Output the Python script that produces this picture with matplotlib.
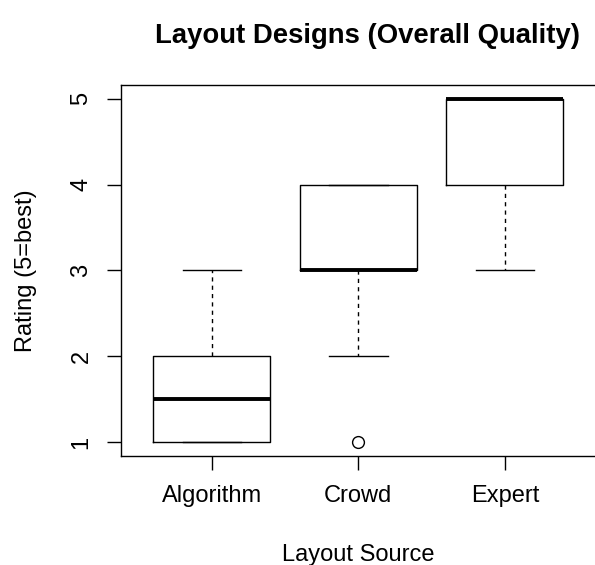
import matplotlib
matplotlib.use("Agg")
import matplotlib.pyplot as plt

categories = ["Algorithm", "Crowd", "Expert"]
q1 = [1, 3, 4]
med = [1.5, 3, 5]
q3 = [2, 4, 5]
whislo = [1, 2, 3]
whishi = [3, 4, 5]
fliers = [[], [1], []]
yticks = [1, 2, 3, 4, 5]

plt.rcParams['font.family'] = ['Liberation Sans', 'DejaVu Sans']

W, H = 595, 565
fig = plt.figure(figsize=(W / 100, H / 100), dpi=100)
left, bottom_px, top_px = 121, 455.7, 85
width_px = 3.24 * 146.5
ax = fig.add_axes([left / W, 1 - bottom_px / H, width_px / W, (bottom_px - top_px) / H])

stats = []
for i, c in enumerate(categories):
    stats.append(dict(label=c, q1=q1[i], med=med[i], q3=q3[i],
                      whislo=whislo[i], whishi=whishi[i], fliers=fliers[i]))

pos = list(range(1, len(categories) + 1))
ax.bxp(stats, positions=pos, widths=0.8, showfliers=True,
       boxprops=dict(color='black', linewidth=1.0),
       medianprops=dict(color='black', linewidth=2.8, solid_capstyle='butt'),
       whiskerprops=dict(color='black', linewidth=1.0, linestyle=(0, (3, 3))),
       capprops=dict(color='black', linewidth=1.0),
       capwidths=0.4,
       flierprops=dict(marker='o', markerfacecolor='none', markeredgecolor='black',
                       markersize=8.5, markeredgewidth=1.0))

FS = 17
ax.set_xlim(0.38, 3.62)
ax.set_ylim(0.84, 5.16)
ax.set_yticks(yticks)
ax.set_yticklabels([str(v) for v in yticks], rotation=90, va='center')
ax.set_xticks(pos)
ax.set_xticklabels(categories)
ax.tick_params(axis='both', direction='out', length=10, width=1.0, labelsize=FS)
ax.tick_params(axis='x', pad=11.3)
ax.tick_params(axis='y', pad=10.6)
for s in ax.spines.values():
    s.set_linewidth(1.0)

fig.text(358.4 / W, 1 - 560.5 / H, "Layout Source", ha='center', va='baseline', fontsize=FS)
fig.text(31.9 / W, 1 - 270.4 / H, "Rating (5=best)", ha='center', va='baseline',
         rotation=90, rotation_mode='anchor', fontsize=FS)
fig.text(367.3 / W, 1 - 43.3 / H, "Layout Designs (Overall Quality)",
         ha='center', va='baseline', fontsize=19.8, fontweight='bold')

fig.savefig("out.png", dpi=100)
